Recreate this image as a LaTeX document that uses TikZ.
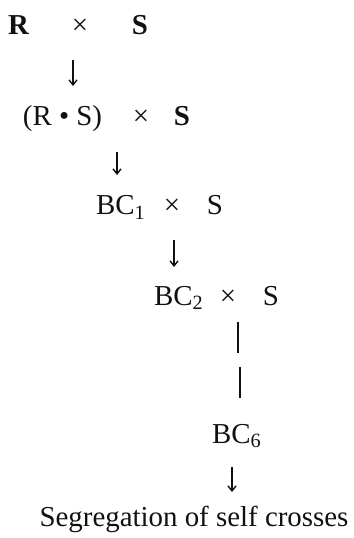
\documentclass[tikz,border=0pt]{standalone}
\usepackage{fontspec}
\setmainfont{Liberation Serif}
\usetikzlibrary{arrows.meta}
\definecolor{schemeink}{HTML}{111111}

\begin{document}
\begin{tikzpicture}[
  x=1bp,
  y=-1bp,
  every node/.style={font=\fontsize{29}{34}\selectfont, text=schemeink, inner sep=0pt},
  crossarrow/.style={schemeink, line width=1.4pt, -{Straight Barb[length=5pt,width=8pt]}},
  gapline/.style={schemeink, line width=1.8pt}
]
  \useasboundingbox (0,0) rectangle (353,538);

  % first cross
  \node[anchor=base] (r1) at (18.5,35) {\bfseries R};
  \node[anchor=base] (x1) at (80,35) {×};
  \node[anchor=base] (s1) at (140,35) {\bfseries S};

  \node[anchor=base] (rs) at (62.5,126) {(R • S)};
  \node[anchor=base] (x2) at (141,126) {×};
  \node[anchor=base] (s2) at (182,126) {\bfseries S};

  \node[anchor=base west] (bc1) at (96,215) {BC\textsubscript{1}};
  \node[anchor=base] (x3) at (172,215) {×};
  \node[anchor=base] (s3) at (215,215) {S};

  \node[anchor=base west] (bc2) at (154,305) {BC\textsubscript{2}};
  \node[anchor=base] (x4) at (228,305) {×};
  \node[anchor=base] (s4) at (271,305) {S};

  \node[anchor=base west] (bc6) at (212,443) {BC\textsubscript{6}};
  \node[anchor=base] (seg) at (194,526) {Segregation of self crosses};

  % arrows between the generations
  \coordinate (a1t) at (73,60);   \coordinate (a1b) at (73,86);
  \coordinate (a2t) at (117,152); \coordinate (a2b) at (117,175);
  \coordinate (a3t) at (174,240); \coordinate (a3b) at (174,267);
  \coordinate (a4t) at (232,467); \coordinate (a4b) at (232,492);
  \draw[crossarrow] (a1t) -- (a1b);
  \draw[crossarrow] (a2t) -- (a2b);
  \draw[crossarrow] (a3t) -- (a3b);
  \draw[crossarrow] (a4t) -- (a4b);

  % broken line for the skipped backcrosses
  \coordinate (g1t) at (238,322); \coordinate (g1b) at (238,353);
  \coordinate (g2t) at (240,367); \coordinate (g2b) at (240,398);
  \draw[gapline] (g1t) -- (g1b);
  \draw[gapline] (g2t) -- (g2b);
\end{tikzpicture}
\end{document}
